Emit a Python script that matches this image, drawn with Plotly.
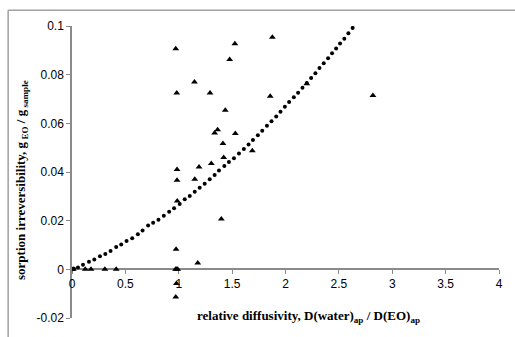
import plotly.graph_objects as go

# fitted-curve dots (relative diffusivity, sorption irreversibility)
curve_x = [0.0, 0.019, 0.056, 0.103, 0.159, 0.209, 0.262, 0.312, 0.361, 0.414, 0.461, 0.511,
           0.564, 0.617, 0.661, 0.713, 0.760, 0.810, 0.860, 0.910, 0.956, 1.009, 1.056, 1.103,
           1.150, 1.196, 1.243, 1.290, 1.336, 1.377, 1.427, 1.470, 1.517, 1.564, 1.610, 1.654,
           1.695, 1.741, 1.782, 1.826, 1.869, 1.913, 1.953, 1.994, 2.034, 2.078, 2.118, 2.159,
           2.199, 2.240, 2.280, 2.318, 2.358, 2.399, 2.436, 2.474, 2.511, 2.551, 2.589, 2.629]
curve_y = [0.0, 0.0002, 0.0008, 0.0019, 0.0031, 0.0040, 0.0054, 0.0063, 0.0075, 0.0092, 0.0102, 0.0116,
           0.0128, 0.0144, 0.0160, 0.0180, 0.0191, 0.0204, 0.0220, 0.0237, 0.0251, 0.0269, 0.0288, 0.0301,
           0.0319, 0.0335, 0.0352, 0.0370, 0.0388, 0.0406, 0.0425, 0.0441, 0.0457, 0.0476, 0.0495, 0.0513,
           0.0532, 0.0551, 0.0570, 0.0590, 0.0609, 0.0628, 0.0648, 0.0668, 0.0688, 0.0707, 0.0726, 0.0746,
           0.0766, 0.0786, 0.0806, 0.0827, 0.0847, 0.0867, 0.0888, 0.0908, 0.0928, 0.0948, 0.0970, 0.0992]

# measured points
meas_x = [0.972, 0.981, 1.147, 1.293, 1.526, 1.477, 1.877, 1.436, 1.336, 1.364, 1.530, 1.857,
          2.819, 1.414, 1.421, 1.689, 1.305, 1.190, 1.150, 0.984, 0.984, 0.986, 1.399, 0.975,
          1.178, 0.978, 0.972, 2.200,
          0.0, 0.012, 0.124, 0.178, 0.308, 0.414, 0.970, 0.980, 0.990]
meas_y = [0.0906, 0.0725, 0.0770, 0.0725, 0.0927, 0.0862, 0.0954, 0.0654, 0.0560, 0.0574, 0.0558, 0.0711,
          0.0714, 0.0517, 0.0460, 0.0487, 0.0435, 0.0421, 0.0370, 0.0410, 0.0366, 0.0281, 0.0207, 0.0083,
          0.0026, -0.0058, -0.0114, 0.0763,
          0.0, 0.0, 0.0, 0.0, 0.0, 0.0, 0.0, 0.0, 0.0]

x_ticks = [0, 0.5, 1, 1.5, 2, 2.5, 3, 3.5, 4]
x_ticklabels = ["0", "0.5", "1", "1.5", "2", "2.5", "3", "3.5", "4"]
y_ticks = [-0.02, 0, 0.02, 0.04, 0.06, 0.08, 0.1]
y_ticklabels = ["-0.02", "0", "0.02", "0.04", "0.06", "0.08", "0.1"]

AX = "#8a8a8a"
TICKFONT = dict(family="Liberation Sans, Arial, sans-serif", size=12, color="#000000")
TITLEFONT = dict(family="Liberation Serif, Times New Roman, serif", size=13, color="#000000",
                 weight="bold")

fig = go.Figure()
fig.add_trace(go.Scatter(x=curve_x, y=curve_y, mode="markers",
                         marker=dict(symbol="circle", size=4, color="#000000"),
                         showlegend=False, hoverinfo="skip"))
fig.add_trace(go.Scatter(x=meas_x, y=meas_y, mode="markers",
                         marker=dict(symbol="triangle-up", size=6, color="#000000"),
                         showlegend=False))

fig.update_layout(
    width=515, height=337,
    margin=dict(l=72, r=15, t=26, b=13),
    paper_bgcolor="white", plot_bgcolor="white",
    xaxis=dict(range=[0, 4], tickvals=x_ticks, ticktext=x_ticklabels,
               showgrid=False, zeroline=False, showline=True, linecolor=AX, linewidth=1.5,
               ticks="outside", ticklen=4, tickcolor=AX, tickwidth=1, layer="below traces",
               anchor="free", position=50 / 298, tickfont=TICKFONT),
    yaxis=dict(range=[-0.02, 0.1], tickvals=y_ticks, ticktext=y_ticklabels,
               showgrid=False, zeroline=False, showline=True, linecolor=AX, linewidth=1.5,
               ticks="outside", ticklen=4, tickcolor=AX, tickwidth=1, layer="below traces",
               domain=[0, 1], tickfont=TICKFONT),
    annotations=[
        dict(text="<b>relative diffusivity, D(water)<sub>ap</sub> / D(EO)<sub>ap</sub></b>",
             xref="paper", yref="paper", x=(309 - 72) / 428, y=(324 - 322) / 298,
             xanchor="center", yanchor="middle", showarrow=False, font=TITLEFONT),
        dict(text="<b>sorption irreversibility, g<sub> EO</sub> / g<sub> sample</sub></b>",
             xref="paper", yref="paper", x=(22 - 72) / 428, y=(324 - 183) / 298,
             xanchor="center", yanchor="middle", showarrow=False, textangle=-90, font=TITLEFONT),
    ],
    shapes=[
        dict(type="line", xref="paper", yref="paper",
             x0=(8 - 72) / 428, x1=(520 - 72) / 428, y0=(324 - 10) / 298, y1=(324 - 10) / 298,
             line=dict(color="#a0a0a0", width=1.5)),
        dict(type="line", xref="paper", yref="paper",
             x0=(8 - 72) / 428, x1=(8 - 72) / 428, y0=(324 - 10) / 298, y1=(324 - 345) / 298,
             line=dict(color="#a0a0a0", width=1.5)),
    ],
)

fig.write_html("out.html")
